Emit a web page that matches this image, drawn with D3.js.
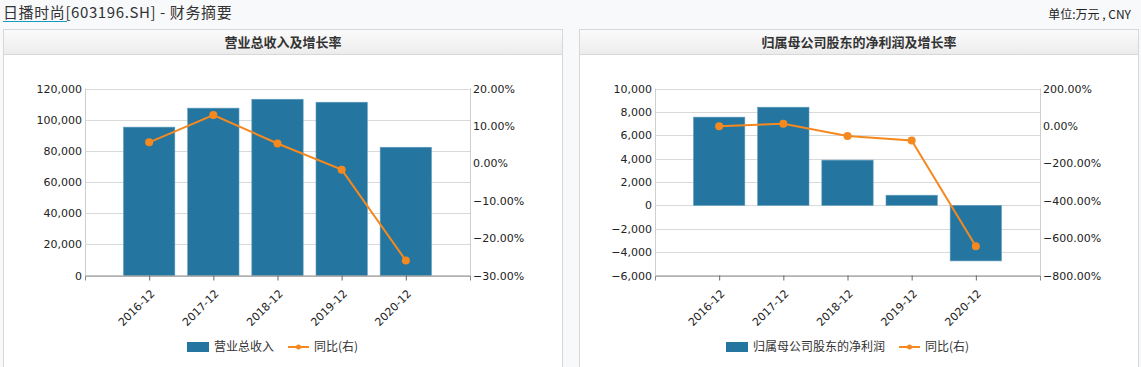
<!DOCTYPE html>
<html>
<head>
<meta charset="utf-8">
<script src="https://cdn.jsdelivr.net/npm/d3@7"></script>
<style>
    body { margin: 0; background: #f8f9fb; }
    svg { display: block; }
    .num { font-family: "DejaVu Sans", Verdana, sans-serif; font-size: 11px; fill: #222; }
    .cjk { font-family: "Noto Sans CJK SC", "Microsoft YaHei", sans-serif; }
</style>
</head>
<body>
<div id="fin-summary"></div>
<script>
// 财务摘要：营业总收入 / 归母净利润 及同比

const PERIODS = ['2016-12', '2017-12', '2018-12', '2019-12', '2020-12'];

// 营业总收入（万元）及同比（%）
const REVENUE = [95200, 107400, 113100, 111200, 82300];
const REVENUE_YOY = [5.6, 12.9, 5.3, -1.7, -26.0];

// 归属母公司股东的净利润（万元）及同比（%）
const PROFIT = [7550, 8400, 3870, 870, -4750];
const PROFIT_YOY = [-1.5, 11.3, -54.0, -77.5, -643.9];

// 坐标轴刻度
const REVENUE_TICKS = [0, 20000, 40000, 60000, 80000, 100000, 120000];
const REVENUE_YOY_TICKS = [-30, -20, -10, 0, 10, 20];
const PROFIT_TICKS = [-6000, -4000, -2000, 0, 2000, 4000, 6000, 8000, 10000];
const PROFIT_YOY_TICKS = [-800, -600, -400, -200, 0, 200];

const BAR_COLOR = '#2476a0';
const LINE_COLOR = '#f5891f';

(function () {
    'use strict';

    const W = 1141, H = 367;
    const svg = d3.select('#fin-summary').append('svg')
        .attr('width', W).attr('height', H);

    svg.append('rect').attr('width', W).attr('height', H).attr('fill', '#f8f9fb');

    // 标题栏渐变
    const grad = svg.append('defs').append('linearGradient')
        .attr('id', 'head-grad').attr('x1', 0).attr('y1', 0).attr('x2', 0).attr('y2', 1);
    grad.append('stop').attr('offset', '0%').attr('stop-color', '#fbfbfb');
    grad.append('stop').attr('offset', '100%').attr('stop-color', '#ececec');

    // 顶部标题
    const head = svg.append('text').attr('class', 'cjk')
        .attr('x', 3).attr('y', 18).style('font-size', '15px')
        .style('letter-spacing', '0.6px').attr('fill', '#333');
    head.append('tspan').text('日播时尚');
    head.append('tspan').text('[603196.SH] - 财务摘要');
    svg.append('line').attr('x1', 3).attr('x2', 67).attr('y1', 21.5).attr('y2', 21.5)
        .attr('stroke', '#1b9ac0').attr('stroke-width', 1);

    svg.append('text').attr('class', 'cjk')
        .attr('x', 1131).attr('y', 19).attr('text-anchor', 'end')
        .style('font-size', '12px').attr('fill', '#222')
        .text('单位:万元 , CNY');

    function drawPanel(opt) {
        const g = svg.append('g').attr('transform', 'translate(' + opt.left + ',0)');
        const pw = 559;

        // 面板边框+标题栏
        g.append('rect').attr('x', 0.5).attr('y', 29.5).attr('width', pw).attr('height', 400)
            .attr('fill', '#fff').attr('stroke', '#d5d7da');
        g.append('rect').attr('x', 1).attr('y', 30).attr('width', pw - 1).attr('height', 24)
            .attr('fill', 'url(#head-grad)');
        g.append('line').attr('x1', 1).attr('x2', pw).attr('y1', 54.5).attr('y2', 54.5)
            .attr('stroke', '#d8d8d8');
        g.append('text').attr('class', 'cjk')
            .attr('x', pw / 2 + 0.5).attr('y', 42).attr('dy', '.35em')
            .attr('text-anchor', 'middle').style('font-size', '13px')
            .style('font-weight', 'bold').attr('fill', '#333')
            .text(opt.title);

        const x0 = opt.plotLeft, x1 = x0 + 385;
        const yTop = 88.5, yBot = 275.5;

        const xScale = d3.scalePoint().domain(PERIODS).range([x0, x1]).padding(1);
        const yScale = d3.scaleLinear().domain(d3.extent(opt.ticks)).range([yBot, yTop]);
        const y2Scale = d3.scaleLinear().domain(d3.extent(opt.yoyTicks)).range([yBot, yTop]);
        const barW = xScale.step() * 0.8;

        // 网格线
        g.append('g').selectAll('line').data(opt.ticks).enter().append('line')
            .attr('x1', x0).attr('x2', x1)
            .attr('y1', function (d) { return Math.round(yScale(d)) + 0.5; })
            .attr('y2', function (d) { return Math.round(yScale(d)) + 0.5; })
            .attr('stroke', '#d9d9d9');

        // 左右纵轴线
        g.append('line').attr('x1', x0 + 0.5).attr('x2', x0 + 0.5).attr('y1', yTop).attr('y2', yBot)
            .attr('stroke', '#cfcfcf');
        g.append('line').attr('x1', x1 + 0.5).attr('x2', x1 + 0.5).attr('y1', yTop).attr('y2', yBot)
            .attr('stroke', '#cfcfcf');

        // 柱子
        g.append('g').selectAll('rect').data(opt.bars).enter().append('rect')
            .attr('x', function (d, i) { return xScale(PERIODS[i]) - barW / 2; })
            .attr('y', function (d) { return Math.min(yScale(0), yScale(d)); })
            .attr('width', barW)
            .attr('height', function (d) { return Math.abs(yScale(d) - yScale(0)); })
            .attr('fill', BAR_COLOR)
            .attr('stroke', '#5f9cbc').attr('stroke-width', 0.6);

        // 左轴刻度文字
        g.append('g').attr('transform', 'translate(' + (x0 - 3) + ',0)')
            .call(d3.axisLeft(yScale).tickValues(opt.ticks).tickSize(0).tickPadding(0)
                .tickFormat(d3.format(',')))
            .call(function (a) { a.select('.domain').remove(); })
            .selectAll('text').attr('class', 'num');

        // 右轴刻度文字
        g.append('g').attr('transform', 'translate(' + (x1 + 3) + ',0)')
            .call(d3.axisRight(y2Scale).tickValues(opt.yoyTicks).tickSize(0).tickPadding(0)
                .tickFormat(function (d) { return d3.format('.2f')(d) + '%'; }))
            .call(function (a) { a.select('.domain').remove(); })
            .selectAll('text').attr('class', 'num');

        // 横轴
        const xAxis = g.append('g').attr('transform', 'translate(0,' + yBot + ')')
            .call(d3.axisBottom(xScale).tickSize(5).tickSizeOuter(5));
        xAxis.select('.domain').attr('stroke', '#8a8a8a');
        xAxis.selectAll('.tick line').attr('stroke', '#666');
        xAxis.selectAll('text').attr('class', 'num')
            .style('text-anchor', 'end')
            .attr('y', 0).attr('dy', '.35em')
            .attr('transform', 'translate(3,16) rotate(-45)');

        // 同比折线
        const line = d3.line()
            .x(function (d, i) { return xScale(PERIODS[i]); })
            .y(function (d) { return y2Scale(d); });
        g.append('path').datum(opt.yoy).attr('d', line)
            .attr('fill', 'none').attr('stroke', LINE_COLOR).attr('stroke-width', 2);
        g.append('g').selectAll('circle').data(opt.yoy).enter().append('circle')
            .attr('cx', function (d, i) { return xScale(PERIODS[i]); })
            .attr('cy', function (d) { return y2Scale(d); })
            .attr('r', 4).attr('fill', LINE_COLOR);

        // 图例
        const lg = g.append('g').attr('transform', 'translate(' + opt.legendX + ',347)');
        lg.append('rect').attr('x', 0).attr('y', -5).attr('width', 22).attr('height', 10)
            .attr('fill', BAR_COLOR);
        const t1 = lg.append('text').attr('class', 'cjk').attr('x', 27).attr('dy', '.35em')
            .style('font-size', '12px').attr('fill', '#333').text(opt.barName);
        const lx = 27 + t1.node().getComputedTextLength() + 14;
        lg.append('line').attr('x1', lx).attr('x2', lx + 21).attr('y1', 0).attr('y2', 0)
            .attr('stroke', LINE_COLOR).attr('stroke-width', 2);
        lg.append('circle').attr('cx', lx + 10.5).attr('cy', 0).attr('r', 2.5).attr('fill', LINE_COLOR);
        lg.append('text').attr('class', 'cjk').attr('x', lx + 26).attr('dy', '.35em')
            .style('font-size', '12px').attr('fill', '#333').text('同比(右)');
    }

    drawPanel({
        left: 3, title: '营业总收入及增长率', plotLeft: 82,
        bars: REVENUE, yoy: REVENUE_YOY,
        ticks: REVENUE_TICKS, yoyTicks: REVENUE_YOY_TICKS,
        barName: '营业总收入', legendX: 184
    });

    drawPanel({
        left: 579, title: '归属母公司股东的净利润及增长率', plotLeft: 76,
        bars: PROFIT, yoy: PROFIT_YOY,
        ticks: PROFIT_TICKS, yoyTicks: PROFIT_YOY_TICKS,
        barName: '归属母公司股东的净利润', legendX: 147
    });
}());
</script>
</body>
</html>
